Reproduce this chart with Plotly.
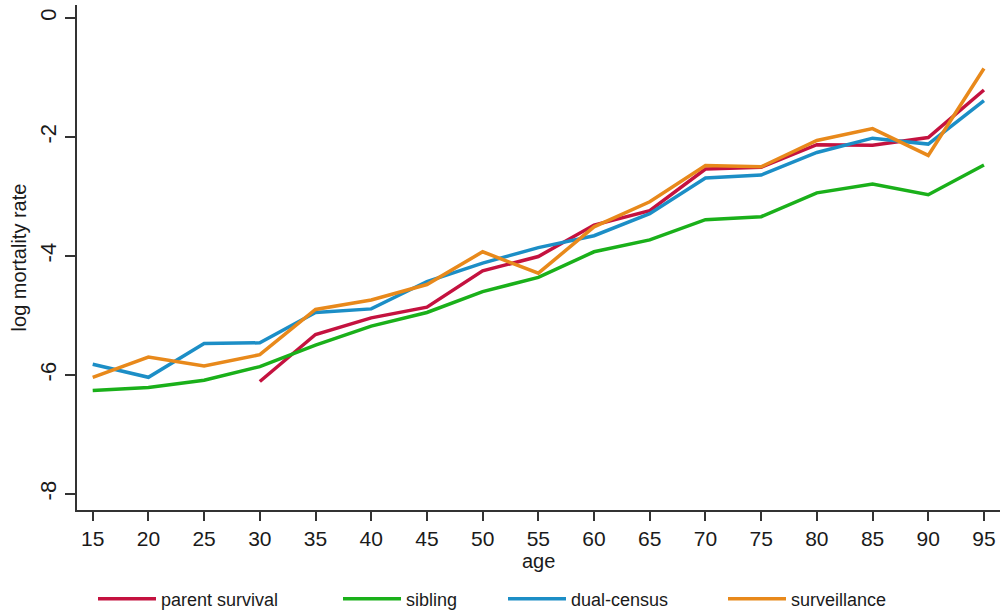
import plotly.graph_objects as go

# Age groups (lower bound of 5-year band)
ages = [15, 20, 25, 30, 35, 40, 45, 50, 55, 60, 65, 70, 75, 80, 85, 90, 95]

# Log mortality rate by estimation method
parent_survival = [None, None, None, -6.11, -5.32, -5.04, -4.86, -4.25, -4.01,
                   -3.48, -3.24, -2.54, -2.51, -2.13, -2.14, -2.01, -1.21]
sibling = [-6.26, -6.21, -6.09, -5.86, -5.50, -5.18, -4.95, -4.60, -4.36,
           -3.93, -3.73, -3.39, -3.34, -2.94, -2.79, -2.97, -2.47]
dual_census = [-5.82, -6.04, -5.47, -5.46, -4.95, -4.89, -4.43, -4.12, -3.86,
               -3.66, -3.29, -2.69, -2.64, -2.26, -2.02, -2.12, -1.39]
surveillance = [-6.04, -5.70, -5.85, -5.66, -4.90, -4.74, -4.48, -3.93, -4.29,
                -3.51, -3.09, -2.48, -2.50, -2.06, -1.86, -2.31, -0.85]

series = [
    ("parent survival", parent_survival, "#C4123F"),
    ("sibling", sibling, "#1AB01A"),
    ("dual-census", dual_census, "#1C8EC6"),
    ("surveillance", surveillance, "#E8891B"),
]

x_ticks = list(range(15, 100, 5))
y_ticks = [0, -2, -4, -6, -8]

FONT = "Liberation Sans, Arial, sans-serif"
TXT = "#1a1a1a"
AX = "#333333"
W, H = 1005, 616
ML, MR, MT, MB = 77, 5, 5, 106
plot_h = H - MT - MB

# One row of legend entries below the axis, each in its own legend box
# (positions in container pixels: left edge of each entry, row centre)
legend_left_px = [93, 338, 503, 723]
legend_row_px = 599
KEY_W = 58
# x-axis title sits just under the tick labels
x_title_px = 561

fig = go.Figure()
layout_legends = {}
for i, (name, vals, color) in enumerate(series):
    key = "legend" if i == 0 else f"legend{i + 1}"
    fig.add_trace(go.Scatter(
        x=ages, y=vals, name=name, mode="lines",
        line=dict(color=color, width=3.5),
        connectgaps=False,
        legend=key,
    ))
    layout_legends[key] = dict(
        xref="container", yref="container",
        x=legend_left_px[i] / W,
        y=(H - legend_row_px) / H,
        xanchor="left", yanchor="middle",
        orientation="h",
        font=dict(family=FONT, size=18, color=TXT),
        bgcolor="rgba(0,0,0,0)",
        borderwidth=0,
        itemwidth=KEY_W,
    )

fig.update_layout(
    width=W, height=H,
    margin=dict(l=ML, r=MR, t=MT, b=MB, autoexpand=False),
    paper_bgcolor="white",
    plot_bgcolor="white",
    font=dict(family=FONT, size=20, color=TXT),
    showlegend=True,
    annotations=[dict(
        text="age", xref="paper", yref="paper",
        x=0.5, y=-(x_title_px - (H - MB)) / plot_h,
        xanchor="center", yanchor="middle", showarrow=False,
        font=dict(family=FONT, size=20, color=TXT),
    )],
    **layout_legends,
)

fig.update_xaxes(
    range=[13.59, 96.44],
    tickvals=x_ticks,
    ticktext=[str(v) for v in x_ticks],
    ticks="outside", ticklen=9, tickwidth=1.5, tickcolor=AX,
    showline=True, linecolor=AX, linewidth=1.5,
    showgrid=False, zeroline=False,
    tickfont=dict(family=FONT, size=21, color=TXT),
    automargin=False,
)
fig.update_yaxes(
    range=[-8.27, 0.218],
    tickvals=y_ticks,
    ticktext=[str(v) for v in y_ticks],
    tickangle=-90,
    ticks="outside", ticklen=10, tickwidth=1.5, tickcolor=AX,
    showline=True, linecolor=AX, linewidth=1.5,
    showgrid=False, zeroline=False,
    tickfont=dict(family=FONT, size=22, color=TXT),
    title=dict(text="log mortality rate", font=dict(family=FONT, size=20, color=TXT), standoff=4),
    automargin=False,
)

fig.write_html("out.html")
